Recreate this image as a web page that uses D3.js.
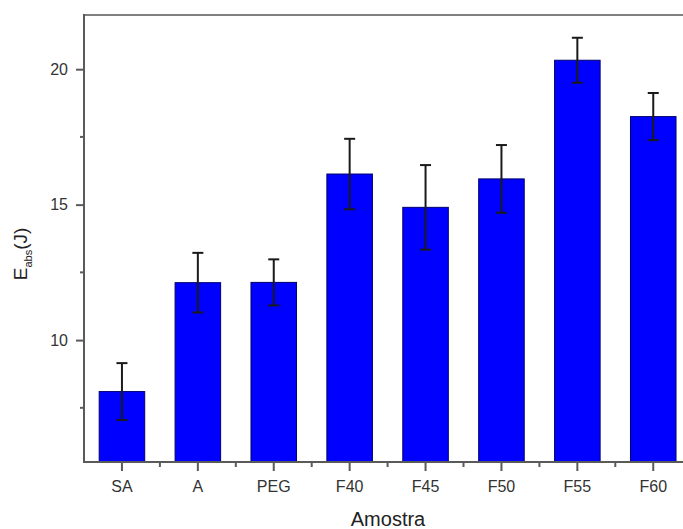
<!DOCTYPE html>
<html>
<head>
<meta charset="utf-8">
<script src="https://cdn.jsdelivr.net/npm/d3@7"></script>
<style>
  html, body { margin: 0; padding: 0; background: #fff; }
  svg { display: block; }
  text { font-family: "Liberation Sans", Arial, sans-serif; }
</style>
</head>
<body>
<svg id="chart" width="683" height="529"></svg>
<script>
// Absorbed energy per sample group, with standard deviations
const categories = ["SA", "A", "PEG", "F40", "F45", "F50", "F55", "F60"];
const means      = [8.1, 12.12, 12.13, 16.13, 14.9, 15.95, 20.33, 18.25];
const errors     = [1.05, 1.1, 0.85, 1.3, 1.56, 1.25, 0.83, 0.87];
const yMajorTicks = [10, 15, 20];
const yMinorTicks = [7.5, 12.5, 17.5];

const svg = d3.select("#chart");
const plotLeft = 84, plotTop = 15, plotBottom = 462;
const step = 75.9;
const plotRight = plotLeft + step * categories.length;

const x = d3.scaleBand()
  .domain(categories)
  .range([plotLeft, plotRight])
  .paddingInner(0.4)
  .paddingOuter(0.2);

const y = d3.scaleLinear().domain([5.5, 22]).range([plotBottom, plotTop]);

const axisColor = "#5a5a5a";

// Bars
svg.append("g").selectAll("rect")
  .data(categories)
  .join("rect")
  .attr("x", d => x(d))
  .attr("y", (d, i) => y(means[i]))
  .attr("width", x.bandwidth())
  .attr("height", (d, i) => plotBottom - y(means[i]))
  .attr("fill", "#0000ff")
  .attr("stroke", "#00006e")
  .attr("stroke-width", 1);

// Error bars
const eb = svg.append("g").attr("stroke", "#1a1a1a").attr("stroke-width", 2);
categories.forEach((c, i) => {
  const cx = x(c) + x.bandwidth() / 2;
  const y1 = y(means[i] + errors[i]);
  const y0 = y(means[i] - errors[i]);
  eb.append("line").attr("x1", cx).attr("x2", cx).attr("y1", y1).attr("y2", y0);
  eb.append("line").attr("x1", cx - 5.5).attr("x2", cx + 5.5).attr("y1", y1).attr("y2", y1);
  eb.append("line").attr("x1", cx - 5.5).attr("x2", cx + 5.5).attr("y1", y0).attr("y2", y0);
});

// Frame: top border
svg.append("line")
  .attr("x1", plotLeft).attr("x2", 683)
  .attr("y1", plotTop).attr("y2", plotTop)
  .attr("stroke", "#808080").attr("stroke-width", 2);

// Y axis
const yAxis = svg.append("g")
  .attr("transform", `translate(${plotLeft},0)`)
  .call(d3.axisLeft(y).tickValues(yMajorTicks).tickSize(8).tickPadding(8).tickFormat(d3.format("d")));
yAxis.select(".domain").remove();
yAxis.selectAll(".tick line").attr("stroke", axisColor).attr("stroke-width", 2);
yAxis.selectAll(".tick text").attr("fill", "#333").style("font-size", "16px")
  .style("font-family", "'Liberation Sans', Arial, sans-serif");

svg.append("g").selectAll("line")
  .data(yMinorTicks)
  .join("line")
  .attr("x1", plotLeft - 4).attr("x2", plotLeft)
  .attr("y1", d => y(d)).attr("y2", d => y(d))
  .attr("stroke", axisColor).attr("stroke-width", 2);

svg.append("line")
  .attr("x1", plotLeft).attr("x2", plotLeft)
  .attr("y1", plotTop - 1).attr("y2", plotBottom + 1)
  .attr("stroke", axisColor).attr("stroke-width", 2);

// X axis
const xAxis = svg.append("g")
  .attr("transform", `translate(0,${plotBottom})`)
  .call(d3.axisBottom(x).tickSize(9).tickPadding(10));
xAxis.select(".domain").remove();
xAxis.selectAll(".tick line").attr("stroke", axisColor).attr("stroke-width", 2);
xAxis.selectAll(".tick text").attr("fill", "#333").style("font-size", "16px")
  .style("font-family", "'Liberation Sans', Arial, sans-serif");

// Minor ticks between categories
const minorX = d3.range(1, categories.length + 1).map(k => plotLeft + k * x.step());
svg.append("g").selectAll("line")
  .data(minorX)
  .join("line")
  .attr("x1", d => d).attr("x2", d => d)
  .attr("y1", plotBottom).attr("y2", plotBottom + 5)
  .attr("stroke", axisColor).attr("stroke-width", 2);

svg.append("line")
  .attr("x1", plotLeft - 1).attr("x2", 683)
  .attr("y1", plotBottom).attr("y2", plotBottom)
  .attr("stroke", axisColor).attr("stroke-width", 2);

// Axis titles
svg.append("text")
  .attr("x", 388)
  .attr("y", 526)
  .attr("text-anchor", "middle")
  .attr("fill", "#222")
  .style("font-size", "20px")
  .text("Amostra");

const yTitle = svg.append("text")
  .attr("transform", "translate(27,254) rotate(-90)")
  .attr("text-anchor", "middle")
  .attr("fill", "#222")
  .style("font-size", "19px");
yTitle.append("tspan").text("E");
yTitle.append("tspan").attr("dy", 5).style("font-size", "11px").text("abs");
yTitle.append("tspan").attr("dy", -5).text("(J)");
</script>
</body>
</html>
